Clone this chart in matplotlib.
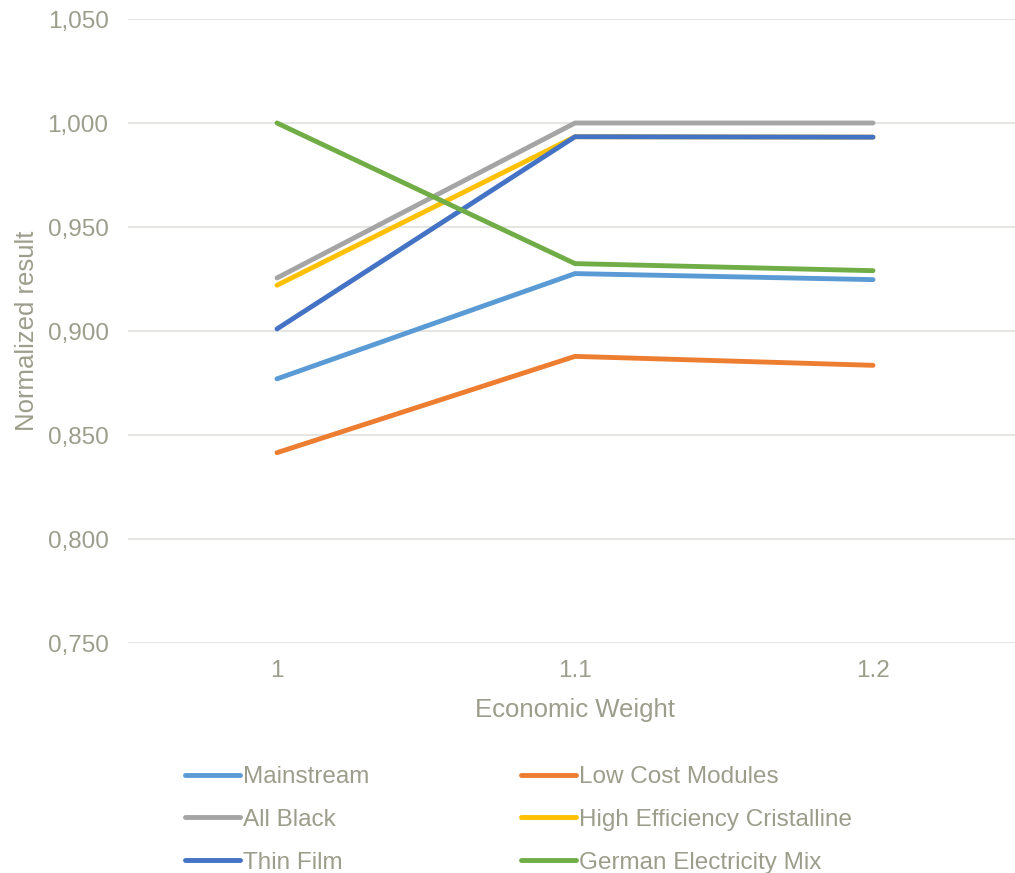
import matplotlib
matplotlib.use("Agg")
import matplotlib.pyplot as plt

categories = ["1", "1.1", "1.2"]
series_names = ["Mainstream", "Low Cost Modules", "All Black",
                "High Efficiency Cristalline", "Thin Film", "German Electricity Mix"]
mainstream = [0.877, 0.9276, 0.9247]
low_cost = [0.8415, 0.8878, 0.8835]
all_black = [0.9255, 1.000, 1.000]
high_eff = [0.922, 0.9934, 0.9932]
thin_film = [0.901, 0.9934, 0.9932]
german_mix = [1.000, 0.9324, 0.929]
yticks = [0.75, 0.80, 0.85, 0.90, 0.95, 1.00, 1.05]
ytick_labels = ["0,750", "0,800", "0,850", "0,900", "0,950", "1,000", "1,050"]

colors = ["#5B9BD5", "#ED7D31", "#A5A5A5", "#FFC000", "#4472C4", "#70AD47"]
text_color = "#9d9d8c"

plt.rcParams['font.family'] = ['Liberation Sans', 'DejaVu Sans']

W, H = 1015, 873
fig = plt.figure(figsize=(W / 100, H / 100), dpi=100)
ax = fig.add_axes([128 / W, (H - 643) / H, 894 / W, 624 / H])

xs = list(range(len(categories)))
lines = []
for name, vals, c in zip(series_names,
                         [mainstream, low_cost, all_black, high_eff, thin_film, german_mix],
                         colors):
    ln, = ax.plot(xs, vals, color=c, lw=3.5, solid_capstyle='round',
                  solid_joinstyle='round', label=name)
    lines.append(ln)

ax.set_xlim(-0.5, 2.5)
ax.set_ylim(0.75, 1.05)
ax.set_xticks(xs)
ax.set_xticklabels(categories)
ax.set_yticks(yticks)
ax.set_yticklabels(ytick_labels)
ax.grid(axis='y', color='#e0e0dc', lw=1.2)
ax.set_axisbelow(True)
for s in ax.spines.values():
    s.set_visible(False)
ax.tick_params(axis='both', length=0, colors=text_color, labelsize=17.5)
ax.tick_params(axis='y', pad=14)
ax.tick_params(axis='x', pad=12)

ax.set_ylabel("Normalized result", color=text_color, fontsize=18.5)
ax.yaxis.set_label_coords(-0.100, 0.5)
ax.set_xlabel("Economic Weight", color=text_color, fontsize=18.5)
ax.xaxis.set_label_coords(0.5, -0.088)

order = [0, 2, 4, 1, 3, 5]
leg = fig.legend([lines[i] for i in order], [series_names[i] for i in order],
                 ncol=2, loc='upper left', bbox_to_anchor=(185 / W, 1 - 766 / H),
                 frameon=False, fontsize=17.5, handlelength=2.26, handletextpad=0.12,
                 columnspacing=6.25, labelspacing=0.86, borderpad=0, borderaxespad=0)
for t in leg.get_texts():
    t.set_color(text_color)

fig.savefig("out.png", dpi=100)
